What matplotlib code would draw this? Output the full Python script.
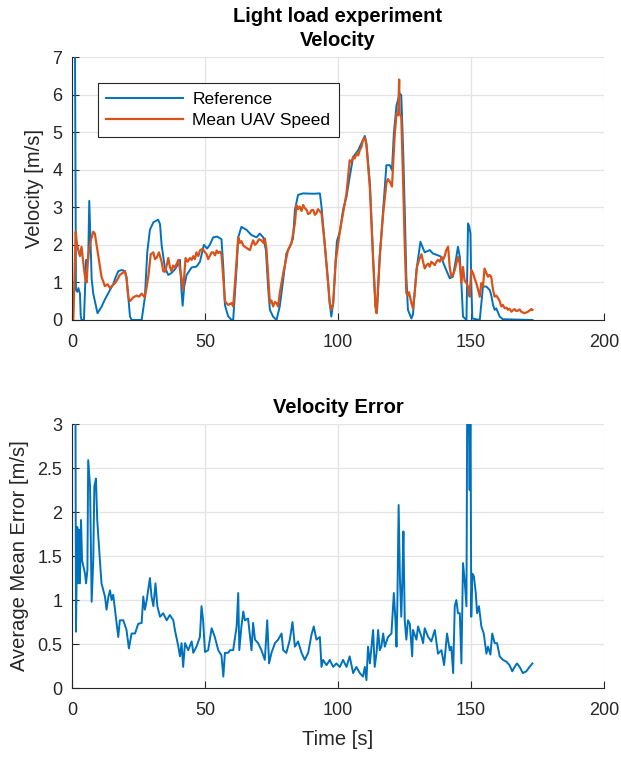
import matplotlib
matplotlib.use('Agg')
import matplotlib.pyplot as plt

# ========== 数据 ==========
# 参考速度
ref_t = [1.1, 1.5, 2.0, 2.4, 3.0, 3.3, 3.6, 4.5, 5.3, 6.1, 6.5, 7.0, 7.4, 8.0, 9.6,
         11.1, 12.4, 14.3, 15.5, 16.2, 17.4, 18.7, 19.9, 20.5, 21.2, 21.8, 22.4, 26.2,
         27.4, 28.3, 29.3, 30.6, 32.4, 33.1, 33.7, 34.9, 36.2, 37.4, 38.7, 40.0, 40.6,
         41.2, 41.6, 42.2, 43.1, 45.0, 46.8, 48.1, 49.6, 50.8, 51.8, 53.1, 54.6, 56.2,
         56.9, 57.5, 58.7, 60.0, 60.6, 61.9, 62.5, 63.7, 65.6, 67.5, 69.4, 70.6, 71.9,
         72.9, 73.8, 74.4, 75.6, 76.9, 78.1, 79.4, 80.6, 81.9, 83.1, 83.8, 85.0, 86.9,
         90.7, 93.2, 93.8, 95.0, 96.3, 96.9, 97.5, 98.2, 99.2, 99.6, 100.7, 101.9, 103.2,
         104.4, 105.7, 107.6, 108.8, 110.1, 110.7, 112.0, 113.2, 114.1, 114.7, 115.7,
         117.0, 118.2, 119.5, 120.3, 121.0, 122.0, 123.2, 123.8, 124.5, 125.1, 125.7,
         126.3, 127.6, 128.2, 129.5, 131.0, 132.6, 134.5, 135.7, 137.6, 138.9, 139.7,
         140.7, 142.0, 143.2, 144.5, 145.1, 145.8, 146.4, 147.0, 148.3, 148.9, 149.3,
         149.8, 150.1, 150.5, 153.3, 153.9, 154.5, 155.8, 157.0, 157.6, 158.3, 158.9,
         159.5, 160.8, 162.0, 173.1]
ref_v = [7.8, 0.8, 0.75, 0.85, 0.7, 0.1, 0.0, 0.0, 1.6, 1.6, 3.17, 2.0, 1.1, 0.7, 0.18,
         0.35, 0.55, 0.8, 0.95, 1.1, 1.3, 1.33, 1.3, 1.15, 0.6, 0.1, 0.0, 0.0,
         0.6, 1.8, 2.4, 2.6, 2.67, 2.55, 2.0, 1.4, 1.2, 1.25, 1.35, 1.5, 1.6,
         0.75, 0.38, 0.9, 1.2, 1.4, 1.42, 1.55, 2.0, 1.9, 2.0, 2.2, 2.22, 2.15,
         1.4, 0.4, 0.1, 0.0, 0.0, 1.4, 2.2, 2.48, 2.4, 2.26, 2.2, 2.3, 2.2,
         1.86, 0.8, 0.27, 0.09, 0.0, 0.36, 1.07, 1.77, 1.95, 2.17, 2.93, 3.33, 3.37,
         3.36, 3.37, 3.02, 2.04, 0.98, 0.45, 0.09, 0.45, 1.68, 2.1, 2.35, 2.93, 3.28,
         3.81, 4.34, 4.52, 4.7, 4.9, 4.7, 3.64, 1.68, 0.36, 0.27, 1.68,
         2.93, 4.12, 4.12, 3.99, 4.96, 5.71, 6.03, 5.98, 4.52, 2.93, 1.15,
         0.27, 0.04, 0.15, 1.33, 2.08, 1.8, 1.86, 1.77, 1.72, 1.68, 1.5,
         1.33, 1.11, 1.15, 1.68, 1.95, 1.68, 0.98, 0.09, 0.0, 2.57, 2.5,
         2.3, 1.0, 0.04, 0.0, 0.45, 0.89, 0.89, 0.8, 0.67, 0.4, 0.27,
         0.31, 0.09, 0.02, 0.0]

# 无人机平均速度（带抖动）
uav_t = [0.5, 1.0, 1.4, 1.9, 2.4, 3.0, 3.6, 4.3, 4.9, 5.5, 6.1, 7.0, 8.0, 8.6, 9.9,
         11.1, 12.4, 13.4, 14.3, 15.2, 16.2, 17.1, 18.0, 19.0, 19.9, 20.5, 21.2, 21.8,
         23.0, 24.3, 25.2, 26.2, 27.4, 28.7, 29.6, 30.6, 31.2, 31.8, 32.7, 33.7, 34.3,
         34.9, 35.6, 36.2, 36.8, 37.4, 38.0, 38.7, 39.4, 40.0, 41.2, 41.8, 42.7, 43.5,
         44.3, 45.0, 45.6, 46.2, 46.8, 47.5, 48.1, 49.1, 49.8, 50.6, 51.2, 51.8, 52.5,
         53.1, 53.8, 54.4, 55.0, 55.6, 56.2, 56.9, 57.5, 58.7, 60.0, 60.6, 61.3, 62.5,
         63.1, 63.7, 64.4, 65.0, 66.0, 66.9, 67.5, 68.1, 68.8, 69.4, 70.3, 71.2, 72.0,
         72.5, 73.1, 74.4, 75.0, 75.6, 76.3, 76.9, 77.5, 78.1, 79.4, 81.2, 82.5, 83.8,
         84.4, 85.0, 85.6, 86.3, 86.9, 87.5, 88.2, 88.8, 89.4, 90.0, 90.7, 91.3, 91.9,
         92.5, 93.2, 93.8, 95.0, 96.3, 96.9, 97.5, 98.2, 99.2, 100.7, 101.9, 103.2,
         104.4, 105.0, 105.7, 106.3, 107.0, 107.6, 108.2, 108.8, 109.4, 110.1, 110.7,
         112.0, 113.2, 114.1, 114.5, 115.7, 117.0, 118.2, 118.8, 119.5, 120.3, 121.3,
         122.0, 122.6, 123.0, 123.2, 123.8, 124.5, 125.1, 125.7, 126.3, 126.7, 127.2,
         127.6, 128.2, 128.8, 129.7, 130.5, 131.4, 132.0, 132.6, 133.2, 133.9, 134.5,
         135.1, 135.8, 136.4, 137.0, 137.6, 138.3, 138.9, 139.5, 140.1, 140.7, 141.4,
         142.0, 142.6, 143.2, 143.9, 144.5, 145.1, 145.8, 146.4, 147.0, 147.6, 148.3,
         148.9, 149.5, 150.1, 150.8, 151.4, 152.0, 152.7, 153.3, 153.9, 154.5, 155.1,
         155.8, 156.4, 157.0, 157.6, 158.3, 158.9, 159.5, 160.2, 160.8, 161.4, 162.0,
         162.7, 163.3, 163.9, 164.5, 165.2, 165.8, 166.4, 167.0, 167.7, 168.3, 168.9,
         169.5, 170.2, 170.8, 171.4, 172.0, 172.7, 173.1]
uav_v = [0.0, 1.2, 2.35, 2.0, 1.85, 1.7, 1.95, 1.5, 1.15, 1.0, 1.7, 2.1, 2.35, 2.3, 1.7,
         1.15, 0.9, 0.95, 0.85, 0.92, 0.98, 1.08, 1.2, 1.25, 1.3, 1.1, 0.6, 0.5,
         0.6, 0.65, 0.62, 0.7, 0.6, 1.15, 1.75, 1.8, 1.62, 1.65, 1.8, 1.55, 1.3,
         1.28, 1.45, 1.65, 1.42, 1.3, 1.45, 1.4, 1.5, 1.6, 1.1, 0.8, 1.65, 1.55,
         1.65, 1.6, 1.7, 1.62, 1.8, 1.7, 1.85, 1.9, 1.82, 1.75, 1.62, 1.7, 1.8,
         1.8, 1.72, 1.85, 1.78, 1.82, 1.75, 1.1, 0.5, 0.4, 0.45, 0.36, 1.0, 2.2,
         2.05, 2.1, 1.98, 1.95, 1.9, 1.86, 2.0, 2.12, 2.0, 2.04, 2.15, 2.12, 2.05,
         2.17, 1.9, 0.45, 0.52, 0.36, 0.48, 0.45, 0.36, 0.71, 1.24, 1.86, 2.04, 2.57,
         3.06, 2.95, 3.02, 2.9, 3.06, 2.98, 2.93, 2.82, 2.84, 2.92, 2.93, 2.8, 2.84,
         2.95, 2.89, 2.84, 2.04, 0.98, 0.45, 0.27, 0.45, 1.6, 2.35, 2.84, 3.37,
         4.25, 4.2, 4.34, 4.3, 4.43, 4.38, 4.52, 4.6, 4.79, 4.85, 4.65,
         3.5, 1.6, 0.35, 0.18, 1.68, 2.84, 3.64, 3.75, 3.68, 3.55, 4.9,
         5.49, 5.45, 6.4, 5.49, 5.4, 3.64, 2.0, 0.71, 0.65, 0.74, 0.58,
         0.45, 0.31, 0.7, 1.41, 1.6, 1.75, 1.55, 1.37, 1.45, 1.5, 1.42,
         1.55, 1.5, 1.46, 1.55, 1.6, 1.55, 1.68, 1.6, 1.7, 1.86, 1.95,
         1.41, 1.15, 1.2, 1.33, 1.5, 1.68, 1.5, 0.98, 1.41, 1.05, 0.98,
         0.89, 0.62, 1.33, 1.24, 1.1, 0.98, 0.8, 0.62, 0.98, 0.89, 1.37,
         1.25, 1.15, 1.2, 1.15, 0.8, 0.62, 0.65, 0.58, 0.5, 0.36, 0.4,
         0.31, 0.33, 0.27, 0.3, 0.22, 0.26, 0.29, 0.24, 0.25, 0.28, 0.22,
         0.2, 0.18, 0.2, 0.22, 0.25, 0.29, 0.27]

# 速度误差
err_t = [1.3, 1.5, 2.0, 2.4, 2.6, 3.0, 3.4, 3.8, 4.3, 4.9, 5.3, 5.8, 6.1, 6.8, 7.4,
         8.0, 8.4, 9.0, 9.5, 9.9, 10.5, 11.1, 11.8, 12.4, 13.0, 13.7, 14.3, 14.9, 15.5,
         16.5, 17.4, 18.0, 19.3, 20.5, 21.4, 22.4, 23.7, 24.9, 26.2, 26.8, 27.4, 28.1,
         29.3, 29.9, 30.6, 31.4, 32.1, 33.1, 34.3, 35.6, 36.8, 38.1, 38.7, 40.0, 40.6,
         41.2, 41.8, 42.5, 43.7, 45.0, 45.6, 46.8, 48.1, 48.7, 49.3, 50.0, 51.2, 52.5,
         53.7, 55.0, 56.2, 56.9, 57.5, 58.7, 59.4, 60.6, 61.9, 62.5, 62.9, 63.7, 64.4,
         65.0, 66.2, 67.5, 68.1, 68.8, 70.0, 71.2, 72.5, 73.4, 74.1, 75.0, 76.3, 77.5,
         78.8, 79.4, 80.6, 81.9, 82.9, 83.8, 85.0, 86.3, 87.5, 88.8, 90.0, 90.9, 91.9,
         93.2, 93.8, 94.4, 95.7, 96.9, 98.2, 99.4, 100.7, 101.9, 103.2, 104.4, 105.7,
         106.9, 108.2, 109.4, 110.1, 110.7, 111.3, 112.0, 113.2, 113.8, 114.5, 115.1,
         115.7, 116.3, 117.0, 117.6, 118.8, 120.1, 121.0, 121.6, 122.0, 122.3, 122.8,
         123.3, 123.8, 124.2, 124.6, 125.1, 125.7, 126.3, 127.0, 127.9, 128.2, 129.5,
         130.1, 131.4, 132.0, 132.6, 133.9, 135.1, 136.4, 137.6, 138.9, 139.9, 141.0,
         142.0, 142.6, 143.3, 143.9, 144.5, 145.1, 145.8, 146.4, 147.0, 147.6, 148.3,
         148.6, 149.1, 149.5, 149.8, 150.1, 150.5, 151.1, 151.8, 152.3, 153.0, 153.9,
         154.8, 155.8, 156.4, 157.3, 158.0, 158.9, 159.8, 160.8, 162.0, 163.3, 164.5,
         165.5, 166.4, 167.3, 168.3, 169.5, 170.8, 172.0, 173.1]
err_v = [3.4, 0.64, 1.83, 1.19, 1.8, 1.19, 1.91, 1.45, 1.38, 1.3, 1.19, 1.34, 2.59, 2.29, 0.98,
         1.45, 2.29, 2.38, 1.91, 1.72, 1.45, 1.19, 1.11, 1.04, 0.89, 1.04, 1.11, 1.0, 1.06,
         0.81, 0.58, 0.77, 0.77, 0.66, 0.45, 0.62, 0.62, 0.73, 0.74, 1.04, 0.89, 1.0,
         1.25, 1.04, 0.93, 1.19, 0.93, 0.81, 0.85, 0.77, 0.83, 0.77, 0.66, 0.47, 0.36,
         0.51, 0.24, 0.51, 0.43, 0.53, 0.4, 0.47, 0.58, 0.93, 0.77, 0.41, 0.43, 0.68,
         0.58, 0.43, 0.37, 0.13, 0.4, 0.4, 0.43, 0.43, 0.7, 1.08, 0.43, 0.7, 0.87,
         0.77, 0.79, 0.43, 0.74, 0.55, 0.51, 0.43, 0.32, 0.77, 0.28, 0.4, 0.51, 0.55,
         0.62, 0.43, 0.4, 0.55, 0.75, 0.47, 0.53, 0.4, 0.32, 0.4, 0.6, 0.7, 0.55,
         0.58, 0.24, 0.32, 0.26, 0.32, 0.24, 0.28, 0.24, 0.32, 0.24, 0.36, 0.17,
         0.24, 0.17, 0.13, 0.24, 0.09, 0.47, 0.28, 0.66, 0.24, 0.4, 0.66,
         0.43, 0.47, 0.62, 0.47, 0.58, 0.62, 1.08, 0.77, 0.47, 0.92, 2.08,
         1.23, 0.81, 1.23, 1.78, 0.77, 0.55, 0.77, 0.73, 0.36, 0.66, 0.55,
         0.7, 0.58, 0.51, 0.68, 0.58, 0.53, 0.66, 0.39, 0.43, 0.26, 0.62,
         0.43, 0.47, 0.17, 0.93, 1.0, 0.85, 0.85, 0.28, 1.42, 1.23, 0.93,
         3.4, 3.4, 2.25, 3.4, 0.81, 1.3, 1.27, 1.08, 0.85, 0.93, 0.7,
         0.62, 0.39, 0.47, 0.38, 0.62, 0.51, 0.51, 0.36, 0.32, 0.3, 0.26,
         0.19, 0.24, 0.28, 0.24, 0.17, 0.19, 0.24, 0.28]

x_ticks = [0, 50, 100, 150, 200]
vel_ticks = [0, 1, 2, 3, 4, 5, 6, 7]
err_ticks = [0, 0.5, 1, 1.5, 2, 2.5, 3]
err_tick_labels = ['0', '0.5', '1', '1.5', '2', '2.5', '3']

# ========== 样式（仿 MATLAB） ==========
plt.rcParams['font.family'] = ['Liberation Sans', 'DejaVu Sans']
BLUE = '#0072BD'
ORANGE = '#D95319'
AX_COLOR = '#262626'
GRID_COLOR = '#e3e3e3'


def style_axes(ax):
    ax.spines['top'].set_visible(False)
    ax.spines['right'].set_visible(False)
    for side in ['left', 'bottom']:
        ax.spines[side].set_color(AX_COLOR)
        ax.spines[side].set_linewidth(0.8)
    ax.grid(True, color=GRID_COLOR, linewidth=0.9)
    ax.set_axisbelow(True)
    ax.tick_params(direction='in', length=5, width=0.8, color=AX_COLOR,
                   labelcolor=AX_COLOR, labelsize=13, pad=7)
    ax.tick_params(axis='x', pad=10)


fig = plt.figure(figsize=(6.21, 7.57), dpi=100)

# ---- 上图：速度 ----
ax1 = fig.add_axes([0.1159, 0.5773, 0.8567, 0.3474])
style_axes(ax1)
ax1.plot(ref_t, ref_v, color=BLUE, linewidth=1.4, label='Reference')
ax1.plot(uav_t, uav_v, color=ORANGE, linewidth=1.6, label='Mean UAV Speed')
ax1.set_xlim(0, 200)
ax1.set_ylim(0, 7)
ax1.set_xticks(x_ticks)
ax1.set_yticks(vel_ticks)
ax1.set_ylabel('Velocity [m/s]', fontsize=14.5, color=AX_COLOR, labelpad=6)
ax1.set_title('Light load experiment\nVelocity', fontsize=14.5, fontweight='bold',
              pad=8, linespacing=1.3)
leg = ax1.legend(loc='upper left', bbox_to_anchor=(0.048, 0.9), fontsize=12.5,
                 fancybox=False, edgecolor=AX_COLOR, framealpha=1,
                 handlelength=4.4, handletextpad=0.55, labelspacing=0.35,
                 borderpad=0.5, borderaxespad=0)
leg.get_frame().set_linewidth(0.8)

# ---- 下图：速度误差 ----
ax2 = fig.add_axes([0.1159, 0.0911, 0.8567, 0.3487])
style_axes(ax2)
ax2.plot(err_t, err_v, color=BLUE, linewidth=1.4)
ax2.set_xlim(0, 200)
ax2.set_ylim(0, 3)
ax2.set_xticks(x_ticks)
ax2.set_yticks(err_ticks)
ax2.set_yticklabels(err_tick_labels)
ax2.set_xlabel('Time [s]', fontsize=14.5, color=AX_COLOR, labelpad=8)
ax2.set_ylabel('Average Mean Error [m/s]', fontsize=14.5, color=AX_COLOR, labelpad=6)
ax2.set_title('Velocity Error', fontsize=14.5, fontweight='bold', pad=8)

plt.savefig('out.png', dpi=100)
plt.close()
